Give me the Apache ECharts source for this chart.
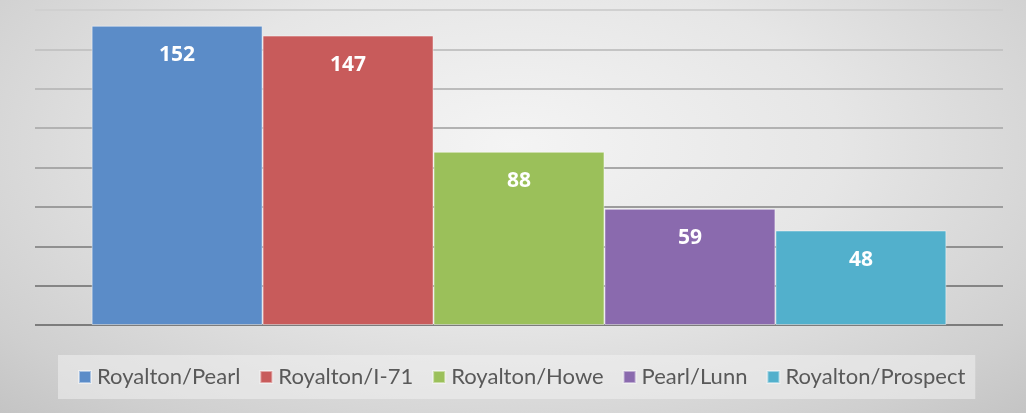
<!DOCTYPE html>
<html>
<head>
<meta charset="utf-8">
<script src="https://cdn.jsdelivr.net/npm/echarts@6/dist/echarts.min.js"></script>
<style>
  html, body { margin: 0; padding: 0; }
  .barChart {
    width: 1026px;
    height: 413px;
    background: radial-gradient(ellipse at 50% 35%, #f4f4f4 0%, #e6e6e6 45%, #cfcfcf 85%, #c4c4c4 100%);
  }
</style>
</head>
<body>
<div class="barChart">
  <div id="container" style="width: 100%; height: 100%"></div>
</div>
<script>
// intersections and their counts
const names = ['Royalton/Pearl', 'Royalton/I-71', 'Royalton/Howe', 'Pearl/Lunn', 'Royalton/Prospect']
const counts = [152, 147, 88, 59, 48]
const colors = ['#5b8cc8', '#c85b5b', '#9bc05a', '#8a6aae', '#52b0cc']
const categories = ['']

const dom = document.getElementById('container')
const myChart = echarts.init(dom)

const option = {
  animation: false,
  color: colors,
  grid: {
    left: 35,
    right: 23,
    top: 10,
    bottom: 88
  },
  legend: {
    data: names,
    icon: 'rect',
    itemWidth: 12,
    itemHeight: 12,
    itemGap: 19,
    left: 58,
    top: 355,
    padding: [11, 10, 11, 20],
    backgroundColor: 'rgba(240,240,240,0.55)',
    textStyle: {
      color: '#595959',
      fontFamily: 'Lato',
      fontSize: 22,
      padding: [0, 0, 0, 1]
    }
  },
  xAxis: {
    type: 'category',
    data: categories,
    axisLine: { show: false },
    axisTick: { show: false },
    axisLabel: { show: false }
  },
  yAxis: {
    type: 'value',
    min: 0,
    max: 160,
    interval: 20,
    axisLine: { show: false },
    axisTick: { show: false },
    axisLabel: { show: false },
    // 网格线, darker towards the bottom
    splitLine: {
      show: true,
      lineStyle: {
        width: 2,
        color: ['#7c7c7c', '#858585', '#909090', '#9c9c9c', '#a8a8a8', '#b2b2b2', '#bcbcbc', '#c4c4c4', '#d0d0d0']
      }
    }
  },
  series: names.map((name, i) => ({
    name: name,
    type: 'bar',
    barGap: '0%',
    barCategoryGap: '11.7%',
    data: [counts[i]],
    itemStyle: {
      color: colors[i],
      borderColor: 'rgba(255,255,255,0.45)',
      borderWidth: 1
    },
    label: {
      show: true,
      position: 'insideTop',
      distance: 19,
      color: '#ffffff',
      fontFamily: 'Open Sans',
      fontWeight: 'bold',
      fontSize: 21
    }
  }))
}

myChart.setOption(option, true)
</script>
</body>
</html>
